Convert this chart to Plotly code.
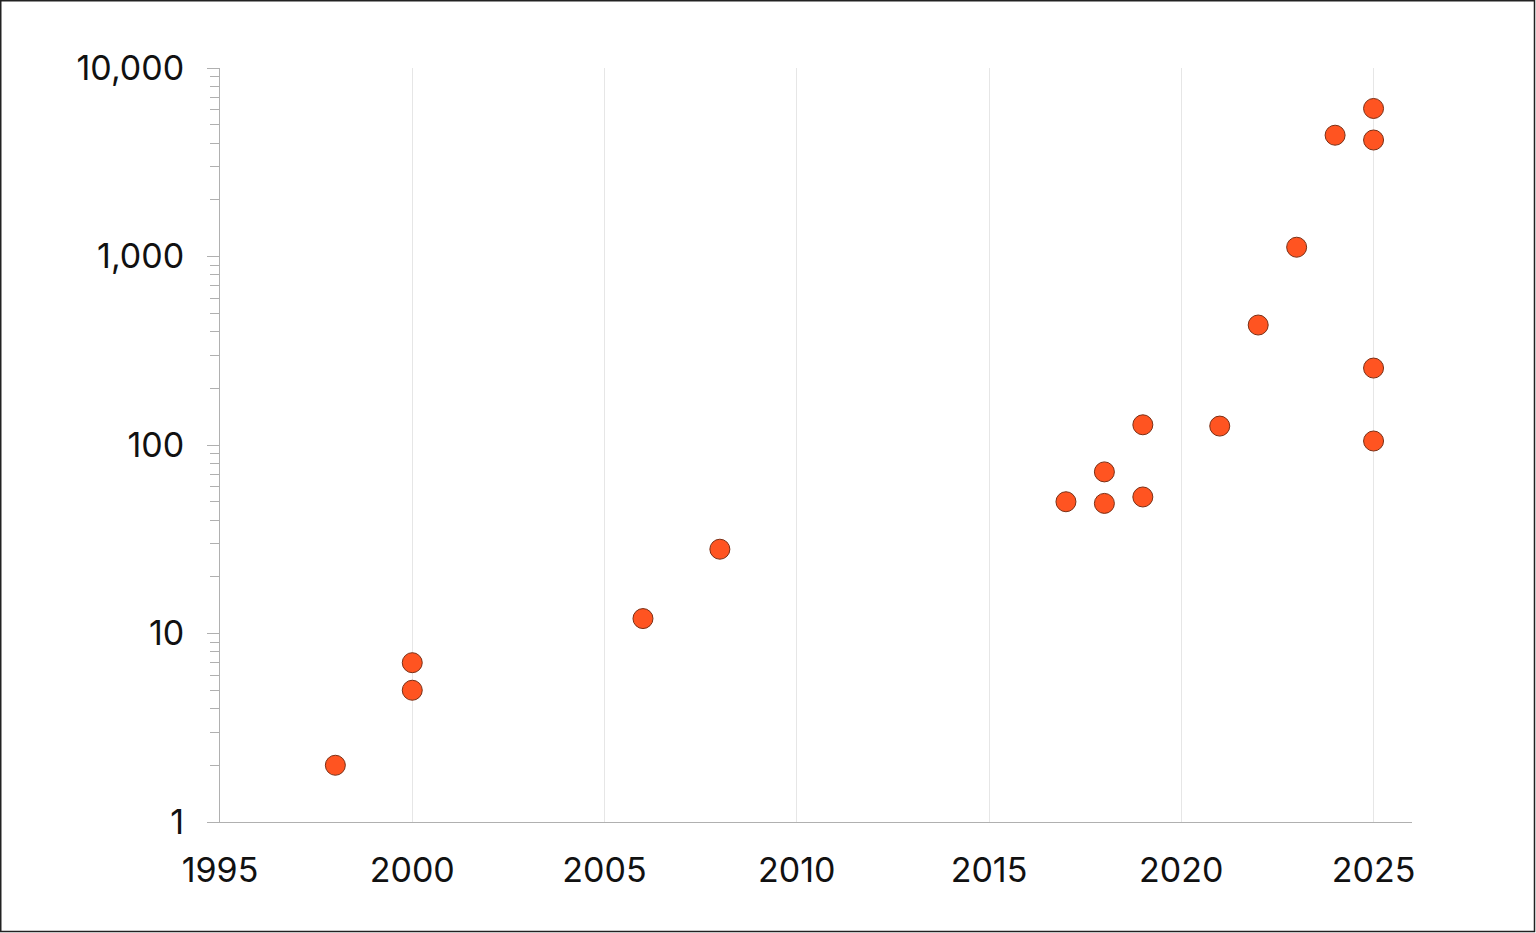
import plotly.graph_objects as go

years = [1998, 2000, 2000, 2006, 2008, 2017, 2018, 2018, 2019, 2019, 2021, 2022, 2023, 2024, 2025, 2025, 2025, 2025]
values = [2.0, 7.0, 5.0, 12, 28, 50, 72, 49, 128, 53, 126, 433, 1120, 4400, 6100, 4150, 256, 105]

y_tickvals = [1, 10, 100, 1000, 10000]
y_ticktext = ["1", "10", "100", "1,000", "10,000"]
x_tickvals = [1995, 2000, 2005, 2010, 2015, 2020, 2025]

W, H = 1536, 933
L, R, T, B = 220, 124, 68, 111
pw, ph = W - L - R, H - T - B

fig = go.Figure()
fig.add_trace(go.Scatter(
    x=years, y=values, mode="markers",
    marker=dict(size=20, color="#FF5421", line=dict(color="#7A2E14", width=1)),
    showlegend=False, hoverinfo="x+y",
))

fig.update_layout(
    width=W, height=H,
    margin=dict(l=L, r=R, t=T, b=B),
    paper_bgcolor="white", plot_bgcolor="white",
    font=dict(family="Inter, Roboto, sans-serif", size=34, color="#111111"),
    xaxis=dict(
        range=[1995, 2026], tickvals=x_tickvals, ticks="",
        showgrid=True, gridcolor="#E6E6E6", gridwidth=1,
        showline=True, linecolor="#B0B0B0", linewidth=1,
        zeroline=False, ticklabelstandoff=18,
        tickfont=dict(size=34),
    ),
    yaxis=dict(
        type="log", range=[0, 4], tickvals=y_tickvals, ticktext=y_ticktext,
        ticks="outside", ticklen=12, tickcolor="#B0B0B0", tickwidth=1,
        showgrid=False, showline=True, linecolor="#B0B0B0", linewidth=1,
        zeroline=False, ticklabelstandoff=16,
        minor=dict(ticks="outside", ticklen=9, tickcolor="#B0B0B0", dtick="D1", showgrid=False),
        tickfont=dict(size=34),
    ),
    shapes=[dict(
        type="rect", xref="paper", yref="paper",
        x0=(0.75 - L) / pw, x1=(W - 1.5 - L) / pw,
        y0=(T + ph - (H - 1.5)) / ph, y1=(T + ph - 0.75) / ph,
        line=dict(color="#222222", width=1.5), fillcolor="rgba(0,0,0,0)", layer="above",
    )],
)

fig.write_html("out.html", config={"displayModeBar": False},
               post_script="document.body.style.margin='0';document.body.style.overflow='hidden';")
